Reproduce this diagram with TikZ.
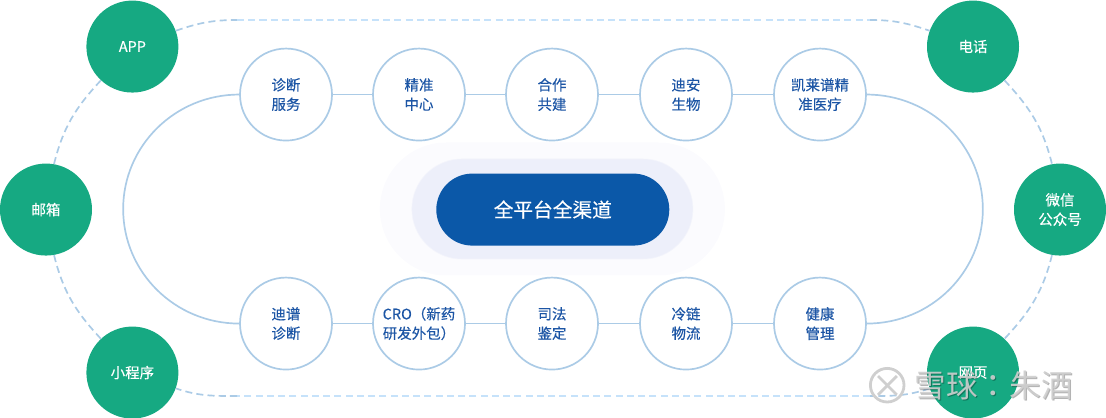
\documentclass[tikz,border=0pt]{standalone}
\usepackage{fontspec}
\setmainfont[FakeBold=0.3]{Noto Sans CJK SC}
\newfontfamily\stampfont{Noto Sans CJK SC}
\newfontfamily\stampcolon{Noto Sans CJK TC}
\definecolor{leaf}{HTML}{16A982}
\definecolor{track}{HTML}{ABCBE6}
\definecolor{tracklight}{HTML}{C6E2FA}
\definecolor{ink}{HTML}{1C55A5}
\definecolor{deepblue}{HTML}{0B58A8}
\definecolor{haloout}{HTML}{FBFBFE}
\definecolor{haloin}{HTML}{EDEFFA}
\definecolor{stampgray}{HTML}{CFCFCF}
\tikzset{
	channel/.style={circle, fill=leaf, text=white, minimum size=2.3cm, inner sep=0pt, yshift=-0.4pt, align=center, font=\fontsize{10.3}{13.8}\selectfont},
	partner/.style={circle, draw=track, line width=1.2pt, fill=white, text=ink, minimum size=2.3cm, inner sep=0pt, yshift=-0.4pt, align=center, font=\fontsize{10.3}{13.8}\selectfont},
	pill/.style={rectangle, inner sep=0pt},
	solidlink/.style={draw=track, line width=1.2pt},
	dashlink/.style={draw=track, line width=1.2pt, dash pattern=on 5pt off 3pt},
	toplink/.style={draw=tracklight, line width=1.2pt, dash pattern=on 5pt off 3pt},
	stamp/.style={font=\stampfont\fontsize{22.5}{24}\selectfont, inner sep=0pt}
}

\begin{document}
\begin{tikzpicture}
	%%%%% START %%%%%
	\useasboundingbox (0, 0) rectangle (27.65, 10.45);

	\node[pill, fill=haloout, minimum width=8.625cm, minimum height=3.325cm, rounded corners=1.66cm] (haloa) at (13.81, 5.225) {};
	\node[pill, fill=haloin, draw=haloout!40!haloin, minimum width=7.025cm, minimum height=2.5cm, rounded corners=1.25cm] (halob) at (13.81, 5.225) {};
	\node[pill, fill=deepblue, text=white, minimum width=5.825cm, minimum height=1.8cm, rounded corners=0.9cm, font=\fontsize{14}{16}\selectfont] (main) at (13.82, 5.21) {全平台全渠道};

	\node[partner] (zhenduan) at (7.15, 8.1) {诊断\\服务};
	\node[partner] (jingzhun) at (10.475, 8.1) {精准\\中心};
	\node[partner] (hezuo) at (13.8, 8.1) {合作\\共建};
	\node[partner] (dian) at (17.15, 8.1) {迪安\\生物};
	\node[partner] (kailai) at (20.5, 8.1) {凯莱谱精\\准医疗};

	\node[partner] (dipu) at (7.15, 2.375) {迪谱\\诊断};
	\node[partner] (cro) at (10.475, 2.375) {CRO（新药\\研发外包）};
	\node[partner] (sifa) at (13.8, 2.375) {司法\\鉴定};
	\node[partner] (lenglian) at (17.15, 2.375) {冷链\\物流};
	\node[partner] (jiankang) at (20.5, 2.375) {健康\\管理};

	\draw[solidlink] (zhenduan) -- (jingzhun);
	\draw[solidlink] (jingzhun) -- (hezuo);
	\draw[solidlink] (hezuo) -- (dian);
	\draw[solidlink] (dian) -- (kailai);
	\draw[solidlink] (dipu) -- (cro);
	\draw[solidlink] (cro) -- (sifa);
	\draw[solidlink] (sifa) -- (lenglian);
	\draw[solidlink] (lenglian) -- (jiankang);

	\draw[solidlink] (zhenduan.west) arc[start angle=90, end angle=270, x radius=2.9, y radius=2.8625];
	\draw[solidlink] (kailai.east) arc[start angle=90, end angle=-90, x radius=2.9, y radius=2.8625];

	\node[channel] (app) at (3.31, 9.3) {APP};
	\node[channel] (mail) at (1.15, 5.225) {邮箱};
	\node[channel] (mini) at (3.31, 1.15) {小程序};
	\node[channel] (phone) at (24.325, 9.3) {电话};
	\node[channel] (wechat) at (26.5, 5.225) {微信\\公众号};
	\node[channel] (web) at (24.325, 1.15) {网页};

	\coordinate (topl) at (5.925, 9.95);
	\coordinate (topr) at (21.75, 9.95);
	\coordinate (botl) at (5.925, 0.55);
	\coordinate (botr) at (21.75, 0.55);

	\draw[dashlink] (mail.80) to[out=76, in=227] (app.227);
	\draw[dashlink] (app.20) to[out=19, in=180] (topl);
	\draw[toplink] (topl) -- (topr);
	\draw[dashlink] (topr) to[out=0, in=161] (phone.160);
	\draw[dashlink] (phone.-47) to[out=-47, in=104] (wechat.100);
	\draw[dashlink] (wechat.-100) to[out=-104, in=47] (web.47);
	\draw[dashlink] (web.200) to[out=199, in=0] (botr);
	\draw[toplink] (botr) -- (botl);
	\draw[dashlink] (botl) to[out=180, in=-19] (mini.-20);
	\draw[dashlink] (mini.133) to[out=133, in=-76] (mail.-80);

	\node[stamp, text=black, opacity=0.3] (stampback) at (24.87, 0.78) {雪球{\stampcolon ：}朱酒};
	\node[stamp, text=stampgray, opacity=0.9] (stampfront) at (24.84, 0.81) {雪球{\stampcolon ：}朱酒};
	\draw[stampgray, line width=2pt] (22.18, 0.82) circle (0.42);
	\draw[stampgray, line width=2pt] (21.95, 1.05) -- (22.42, 0.58);
	\draw[stampgray, line width=2pt] (21.95, 0.58) -- (22.42, 1.05);
	%%%%% END %%%%%
\end{tikzpicture}
\end{document}
